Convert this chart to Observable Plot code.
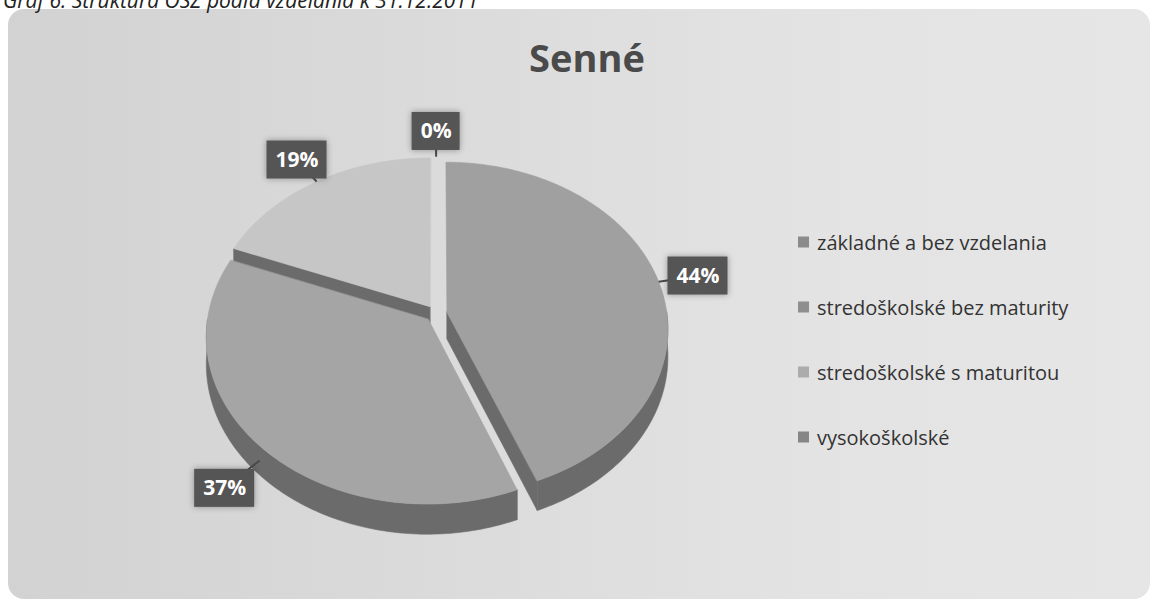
<!DOCTYPE html>
<html><head><meta charset="utf-8">
<script src="https://cdn.jsdelivr.net/npm/d3@7"></script>
<script src="https://cdn.jsdelivr.net/npm/@observablehq/plot@0.6"></script>
<style>
html,body{margin:0;padding:0;background:#fff;width:1157px;height:603px;overflow:hidden;position:relative;font-family:"Open Sans",sans-serif}
#bg{position:absolute;left:8px;top:9px;width:1142px;height:590px;border-radius:16px;background:linear-gradient(90deg,#d2d2d2 0%,#dadada 35%,#e3e3e3 70%,#e6e6e6 100%)}
#caption{position:absolute;left:3px;top:-10px;font-size:21px;line-height:21px;font-style:italic;color:#222;white-space:nowrap}
#title{position:absolute;left:587px;top:38px;transform:translateX(-50%);font-size:38px;line-height:38px;font-weight:bold;color:#4a4a4a;white-space:nowrap}
#chart{position:absolute;left:0;top:0}
#legend{position:absolute;left:798px;top:0}
.lg{position:absolute;left:0;display:flex;align-items:center;white-space:nowrap;font-size:20px;color:#333;transform:translateY(-50%)}
.lg span.sw{display:inline-block;width:11px;height:11px;margin-right:8px}
</style></head><body>
<div id="bg"></div>
<div id="caption">Graf 6: Štruktúra OSZ podľa vzdelania k 31.12.2011</div>
<div id="chart"></div>
<div id="title"></div>
<div id="legend"></div>
<script>
// ---- data ----
const title = "Senné";
const categories = ["základné a bez vzdelania", "stredoškolské bez maturity", "stredoškolské s maturitou", "vysokoškolské"];
const values = [44, 37, 19, 0];
const valueLabels = ["44%", "37%", "19%", "0%"];
const palette = ["#a0a0a0", "#a5a5a5", "#c6c6c6", "#9a9a9a"];

// ---- layout ----
const W = 1157, H = 603;
const geo = {cx: 435.6, cy: 313, R: 220, Ry: 165, k: 0.1, depth: 27, explode: 0.05};
const wallColor = "#6b6b6b";

const rad = d => d * Math.PI / 180;
const total = d3.sum(values);
let acc = 0;
const slices = values.map((v, i) => {
  const a0 = acc / total * 360; acc += v; const a1 = acc / total * 360;
  return {i, cat: categories[i], value: v, label: valueLabels[i], a0, a1, mid: (a0 + a1) / 2};
});

function proj(u, v, h) {
  const d = 1 + geo.k * v;
  return [geo.cx + geo.R * u / d, geo.cy + (-geo.Ry * v + geo.depth * h) / d];
}
function pt(s, r, ang, h) {
  const eu = geo.explode * Math.sin(rad(s.mid)), ev = geo.explode * Math.cos(rad(s.mid));
  return proj(eu + r * Math.sin(rad(ang)), ev + r * Math.cos(rad(ang)), h);
}
function arc(s, from, to, h) {
  const n = Math.max(2, Math.ceil(Math.abs(to - from)));
  return d3.range(n + 1).map(j => pt(s, 1, from + (to - from) * j / n, h));
}

const tops = [], walls = [];
let wid = 0;
slices.forEach(s => {
  if (s.a1 - s.a0 < 0.01) return;
  [pt(s, 0, s.mid, 0), ...arc(s, s.a0, s.a1, 0)].forEach(([x, y]) => tops.push({id: s.i, cat: s.cat, x, y}));
  if (Math.sin(rad(s.a0)) < -1e-6) {
    const p = [pt(s, 0, s.a0, 0), pt(s, 1, s.a0, 0), pt(s, 1, s.a0, 1), pt(s, 0, s.a0, 1)];
    p.forEach(([x, y]) => walls.push({id: wid, x, y})); wid++;
  }
  if (Math.sin(rad(s.a1)) > 1e-6) {
    const p = [pt(s, 0, s.a1, 0), pt(s, 1, s.a1, 0), pt(s, 1, s.a1, 1), pt(s, 0, s.a1, 1)];
    p.forEach(([x, y]) => walls.push({id: wid, x, y})); wid++;
  }
  const f0 = Math.max(s.a0, 90), f1 = Math.min(s.a1, 270);
  if (f1 > f0) {
    const p = [...arc(s, f0, f1, 0), ...arc(s, f1, f0, 1)];
    p.forEach(([x, y]) => walls.push({id: wid, x, y})); wid++;
  }
});

// data labels (outside end)
const labelData = slices.map(s => {
  const front = Math.cos(rad(s.mid)) < 0;
  const [lx, ly] = pt(s, 1.19, s.mid, front ? 0.55 : 0);
  const [rx, ry] = pt(s, 1.0, s.mid, front ? 0.5 : 0);
  const bw = s.label.length * 12 + 24, bh = 38;
  return {...s, lx, ly, rx, ry, bw, bh};
});

const plot = Plot.plot({
  width: W, height: H, margin: 0,
  x: {domain: [0, W], range: [0, W], axis: null},
  y: {domain: [0, H], range: [0, H], axis: null},
  color: {domain: categories, range: palette},
  style: {background: "transparent", overflow: "visible"},
  marks: [
    Plot.line(walls, {x: "x", y: "y", z: "id", fill: wallColor, stroke: wallColor, strokeWidth: 0.6, curve: "linear-closed"}),
    Plot.line(tops, {x: "x", y: "y", z: "id", fill: "cat", stroke: "cat", strokeWidth: 0.6, curve: "linear-closed"}),
    Plot.link(labelData, {x1: "rx", y1: "ry", x2: "lx", y2: "ly", stroke: "#4a4a4a", strokeWidth: 2}),
    Plot.rect(labelData, {x1: d => d.lx - d.bw / 2, x2: d => d.lx + d.bw / 2, y1: d => d.ly - d.bh / 2, y2: d => d.ly + d.bh / 2, fill: "#555555"}),
    Plot.text(labelData, {x: "lx", y: "ly", text: "label", fill: "white", fontSize: 21, fontWeight: "bold", fontFamily: "Open Sans"})
  ]
});
d3.select(plot).selectAll('g[aria-label="rect"] rect').style("filter", "drop-shadow(0px 0px 3px rgba(0,0,0,0.35))");
document.getElementById("chart").appendChild(plot);
document.getElementById("title").textContent = title;

// legend
const colorScale = plot.scale("color");
const lgY0 = 242, lgStep = 65;
const legend = d3.select("#legend");
categories.forEach((c, i) => {
  const row = legend.append("div").attr("class", "lg").style("top", (lgY0 + i * lgStep) + "px");
  row.append("span").attr("class", "sw").style("background", d3.color(colorScale.apply(c)).darker(0.4));
  row.append("span").text(c);
});
</script>
</body></html>
